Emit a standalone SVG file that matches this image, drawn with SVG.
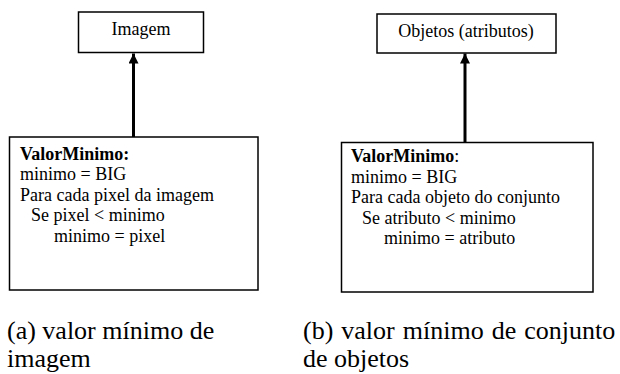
<svg xmlns="http://www.w3.org/2000/svg" width="620" height="374" viewBox="0 0 620 374">
<style>
.box{fill:#fff;stroke:#000;stroke-width:1.5}
.t{font-family:"Liberation Serif","Times New Roman",serif;font-size:18px;fill:#000}
.b{font-weight:bold}
.cap{font-family:"Liberation Serif","Times New Roman",serif;font-size:26px;fill:#000}
.conn{stroke:#000;stroke-width:3;fill:none}
</style>
<defs>
<marker id="ah" markerUnits="userSpaceOnUse" markerWidth="10" markerHeight="10" viewBox="0 0 10 10" refX="10" refY="5" orient="auto">
<path d="M0,0 L10,5 L0,10 Z" fill="#000"/>
</marker>
</defs>
<rect width="620" height="374" fill="#fff"/>
<g id="connectors">
<line class="conn" x1="133.5" y1="137" x2="133.5" y2="53.5" marker-end="url(#ah)"/>
<line class="conn" x1="465" y1="142" x2="465" y2="53.5" marker-end="url(#ah)"/>
</g>
<g id="imagem">
<rect class="box" x="78.5" y="12" width="125" height="40.5"/>
<text class="t" x="141" y="34.5" text-anchor="middle">Imagem</text>
</g>
<g id="objetos">
<rect class="box" x="377" y="14" width="179" height="39"/>
<text class="t" x="466" y="37" text-anchor="middle">Objetos (atributos)</text>
</g>
<g id="valorminimo-a">
<rect class="box" x="9.5" y="137" width="248.5" height="153"/>
<text class="t" x="20" y="159.5"><tspan class="b">ValorMinimo:</tspan></text>
<text class="t" x="20" y="180">minimo = BIG</text>
<text class="t" x="20" y="200.5">Para cada pixel da imagem</text>
<text class="t" x="31" y="221">Se pixel &lt; minimo</text>
<text class="t" x="54" y="241.5">minimo = pixel</text>
</g>
<g id="valorminimo-b">
<rect class="box" x="341.5" y="142.5" width="251.5" height="149.5"/>
<text class="t" x="351" y="162"><tspan class="b">ValorMinimo</tspan>:</text>
<text class="t" x="351" y="182.5">minimo = BIG</text>
<text class="t" x="351" y="203">Para cada objeto do conjunto</text>
<text class="t" x="362" y="223.5">Se atributo &lt; minimo</text>
<text class="t" x="384" y="244">minimo = atributo</text>
</g>
<g id="captions">
<text class="cap" x="7" y="339">(a) valor mínimo de</text>
<text class="cap" x="7" y="367">imagem</text>
<text class="cap" x="303" y="339" word-spacing="1.5">(b) valor mínimo de conjunto</text>
<text class="cap" x="303" y="367">de objetos</text>
</g>
</svg>
